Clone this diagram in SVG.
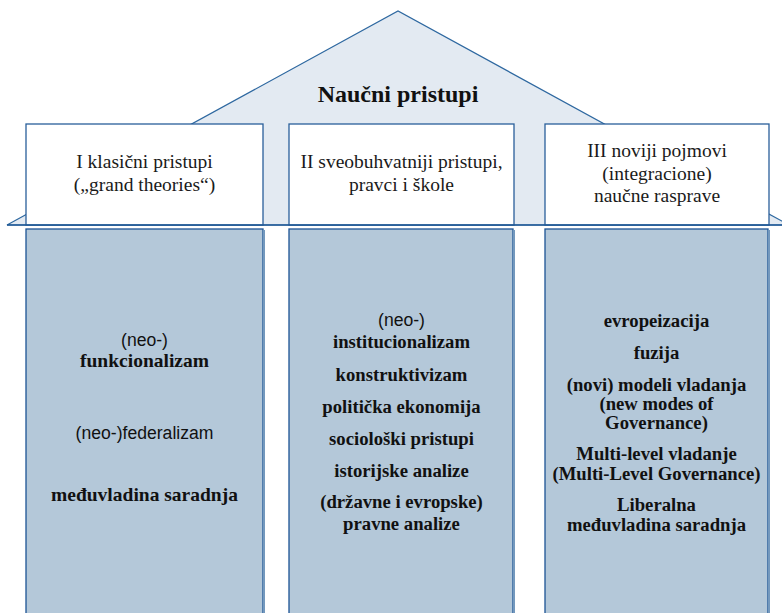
<svg xmlns="http://www.w3.org/2000/svg" width="782" height="613" viewBox="0 0 782 613">
  <style>
    .roof { fill: #e3eaf2; stroke: #2e68a0; stroke-width: 1.2; }
    .base { stroke: #1f5896; stroke-width: 1.6; fill: none; }
    .head { fill: #ffffff; stroke: #2a5f9a; stroke-width: 1.3; }
    .pillar { fill: #b4c8d9; stroke: #1c5394; stroke-width: 1.3; }
    .shade { stroke: #7398bd; stroke-width: 2; }
    .title { font-family: "Liberation Serif", "Times New Roman", serif; font-weight: bold; font-size: 24px; fill: #111; text-anchor: middle; }
    .cap { font-family: "Liberation Serif", "Times New Roman", serif; font-size: 19.5px; fill: #1a1a1a; text-anchor: middle; }
    .item { font-family: "Liberation Serif", "Times New Roman", serif; font-weight: bold; font-size: 18.7px; fill: #111; text-anchor: middle; }
    .item1 { font-size: 19.5px; }
    .sans { font-family: "Liberation Sans", Arial, sans-serif; font-weight: normal; font-size: 17.6px; }
  </style>

  <!-- roof -->
  <g id="roof">
    <polygon class="roof" points="7,225 398,11 789,225"/>
    <text class="title" x="398" y="102">Naučni pristupi</text>
  </g>

  <!-- column heads -->
  <g id="head-1">
    <rect class="head" x="26" y="124" width="237" height="101"/>
    <text class="cap" x="144.5" y="168">I klasični pristupi</text>
    <text class="cap" x="144.5" y="191">(„grand theories“)</text>
  </g>
  <g id="head-2">
    <rect class="head" x="289" y="124" width="225" height="101"/>
    <text class="cap" x="401.5" y="168">II sveobuhvatniji pristupi,</text>
    <text class="cap" x="401.5" y="191">pravci i škole</text>
  </g>
  <g id="head-3">
    <rect class="head" x="545" y="124" width="224" height="101"/>
    <text class="cap" x="657" y="157">III noviji pojmovi</text>
    <text class="cap" x="657" y="180">(integracione)</text>
    <text class="cap" x="657" y="202">naučne rasprave</text>
  </g>

  <!-- floor line -->
  <line class="base" x1="7" y1="225" x2="782" y2="225"/>

  <!-- pillars -->
  <g id="pillar-1">
    <rect class="pillar" x="26" y="229" width="237" height="390"/>
    <line class="shade" x1="264" y1="230" x2="264" y2="613"/>
    <text class="item item1 sans" x="144.5" y="346">(neo-)</text>
    <text class="item item1" x="144.5" y="367">funkcionalizam</text>
    <text class="item item1 sans" x="144.5" y="439">(neo-)federalizam</text>
    <text class="item item1" x="144.5" y="501">međuvladina saradnja</text>
  </g>
  <g id="pillar-2">
    <rect class="pillar" x="289" y="229" width="224" height="390"/>
    <line class="shade" x1="514" y1="230" x2="514" y2="613"/>
    <text class="item sans" x="401.5" y="326">(neo-)</text>
    <text class="item" x="401.5" y="348">institucionalizam</text>
    <text class="item" x="401.5" y="381">konstruktivizam</text>
    <text class="item" x="401.5" y="413">politička ekonomija</text>
    <text class="item" x="401.5" y="445">sociološki pristupi</text>
    <text class="item" x="401.5" y="477">istorijske analize</text>
    <text class="item" x="401.5" y="508">(državne i evropske)</text>
    <text class="item" x="401.5" y="530">pravne analize</text>
  </g>
  <g id="pillar-3">
    <rect class="pillar" x="545" y="229" width="223" height="390"/>
    <line class="shade" x1="769" y1="230" x2="769" y2="613"/>
    <text class="item" x="656.5" y="327">evropeizacija</text>
    <text class="item" x="656.5" y="359">fuzija</text>
    <text class="item" x="656.5" y="391">(novi) modeli vladanja</text>
    <text class="item" x="656.5" y="410">(new modes of</text>
    <text class="item" x="656.5" y="429">Governance)</text>
    <text class="item" x="656.5" y="460">Multi-level vladanje</text>
    <text class="item" x="656.5" y="480">(Multi-Level Governance)</text>
    <text class="item" x="656.5" y="511">Liberalna</text>
    <text class="item" x="656.5" y="531">međuvladina saradnja</text>
  </g>
</svg>
